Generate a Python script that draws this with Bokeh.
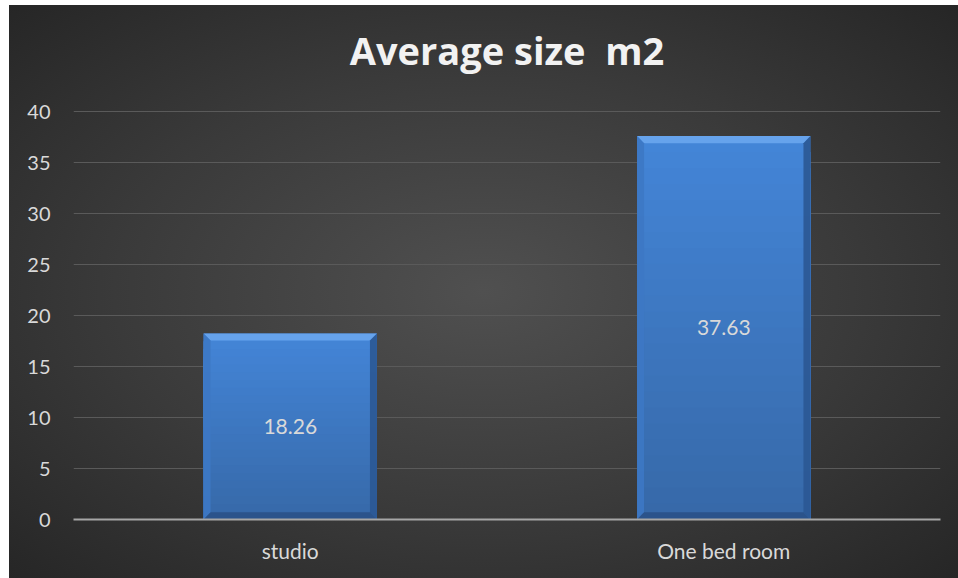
from bokeh.plotting import figure
from bokeh.models import Range1d, FixedTicker, ColumnDataSource, Title
from bokeh.embed import file_html
from bokeh.resources import INLINE

# ---- data ----
categories = ["studio", "One bed room"]
values = [18.26, 37.63]
value_labels = ["18.26", "37.63"]
y_ticks = [0, 5, 10, 15, 20, 25, 30, 35, 40]
title_text = "Average size \u00a0m2"

W, H = 958, 578
p = figure(width=W, height=H, output_backend="svg", toolbar_location=None,
           x_range=Range1d(0, len(categories)), y_range=Range1d(0, 42),
           min_border_left=73, min_border_right=18, min_border_top=91,
           min_border_bottom=59)
p.styles = {"background": "radial-gradient(ellipse farthest-corner at 50% 50%, #505050 0%, #3a3a3a 55%, #262626 100%) 9px 5px / 949px 573px no-repeat, #ffffff"}
p.border_fill_alpha = 0
p.background_fill_alpha = 0
p.outline_line_color = None

t = Title(text=title_text, align="center", text_font="Open Sans", text_font_style="bold",
          text_font_size="38px", text_color="#f2f2f2", standoff=31, offset=-17)
p.add_layout(t, "above")

xs = [i + 0.5 for i in range(len(categories))]
bw = 0.4

# gradient inside each bar: overlapping bars from full height down, no seams
dx = 7 / 433.5
dy = 0.7
nb = 24
top_c = (0x44, 0x86, 0xd8)
bot_c = (0x37, 0x69, 0xa9)
bx, bt, bc = [], [], []
for x, v in zip(xs, values):
    for k in range(nb, 0, -1):
        f = k / nb
        fm = (k - 0.5) / nb
        c = tuple(int(bot_c[j] + (top_c[j] - bot_c[j]) * fm) for j in range(3))
        bx.append(x)
        bt.append(v * f)
        bc.append("#%02x%02x%02x" % c)
p.vbar(x=bx, bottom=0, top=bt, width=bw, fill_color=bc, line_color=None)

# bevel edges
pxs, pys, pcs, pal = [], [], [], []
for x, v in zip(xs, values):
    l, r = x - bw / 2, x + bw / 2
    # top
    pxs.append([l, r, r - dx, l + dx]); pys.append([v, v, v - dy, v - dy]); pcs.append("#6aa6ee"); pal.append(0.9)
    # left
    pxs.append([l, l + dx, l + dx, l]); pys.append([v, v - dy, dy, 0]); pcs.append("#3d78c4"); pal.append(0.9)
    # right
    pxs.append([r, r - dx, r - dx, r]); pys.append([v, v - dy, dy, 0]); pcs.append("#2b5894"); pal.append(0.9)
    # bottom
    pxs.append([l, r, r - dx, l + dx]); pys.append([0, 0, dy, dy]); pcs.append("#2a5187"); pal.append(0.9)
p.patches(xs=pxs, ys=pys, fill_color=pcs, fill_alpha=pal, line_color=None)

# value labels
src = ColumnDataSource(dict(x=xs, y=[v / 2 for v in values], t=value_labels))
p.text(x="x", y="y", text="t", source=src, text_align="center", text_baseline="middle",
       text_color="#d9d9d9", text_font_size="21px", text_font={"value": "Lato"})

# axes styling
p.xaxis.ticker = FixedTicker(ticks=xs)
p.xaxis.major_label_overrides = {x: c for x, c in zip(xs, categories)}
p.xaxis.major_tick_line_color = None
p.xaxis.minor_tick_line_color = None
p.xaxis.axis_line_color = "#a6a6a6"
p.xaxis.axis_line_width = 2
p.xaxis.major_label_text_color = "#d9d9d9"
p.xaxis.major_label_text_font = "Lato"
p.xaxis.major_label_text_font_size = "21px"
p.xaxis.major_label_standoff = 12

p.yaxis.ticker = FixedTicker(ticks=y_ticks)
p.yaxis.axis_line_color = None
p.yaxis.major_tick_line_color = None
p.yaxis.minor_tick_line_color = None
p.yaxis.major_label_text_color = "#d9d9d9"
p.yaxis.major_label_text_font = "Lato"
p.yaxis.major_label_text_font_size = "20px"
p.yaxis.major_label_standoff = 17

p.xgrid.grid_line_color = None
p.ygrid.ticker = FixedTicker(ticks=y_ticks)
p.ygrid.grid_line_color = "#5a5a5a"
p.ygrid.grid_line_width = 1

open("out.html", "w").write(file_html(p, INLINE))
